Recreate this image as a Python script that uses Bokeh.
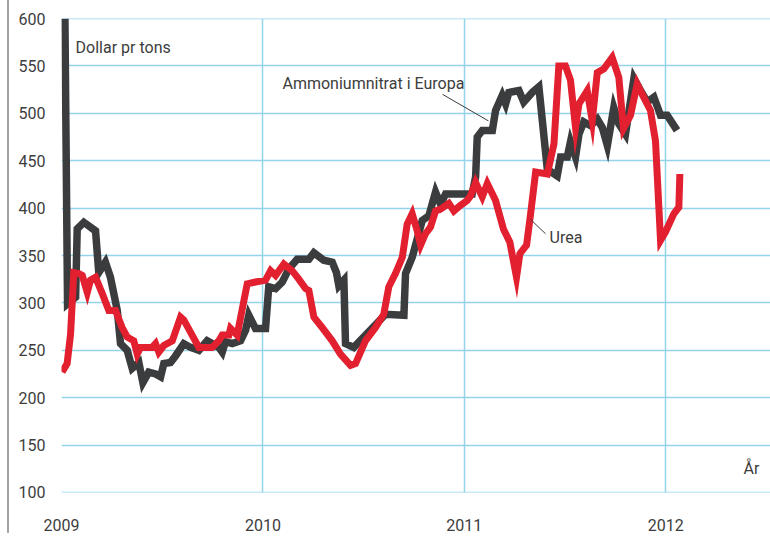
from bokeh.plotting import figure
from bokeh.models import Range1d, FixedTicker, Label, ColumnDataSource
from bokeh.embed import file_html
from bokeh.resources import INLINE

# ---- data (fractional year, USD per tonne) ----
amm_year = [2009.017, 2009.030, 2009.070, 2009.078, 2009.111, 2009.169, 2009.185, 2009.218,
            2009.243, 2009.277, 2009.293, 2009.326, 2009.351, 2009.384, 2009.404, 2009.433,
            2009.467, 2009.492, 2009.508, 2009.541, 2009.566, 2009.607, 2009.641, 2009.682,
            2009.723, 2009.748, 2009.781, 2009.798, 2009.814, 2009.848, 2009.889, 2009.914,
            2009.930, 2009.963, 2010.013, 2010.029, 2010.063, 2010.096, 2010.129, 2010.170,
            2010.228, 2010.253, 2010.302, 2010.344, 2010.365, 2010.377, 2010.402, 2010.410,
            2010.451, 2010.609, 2010.700, 2010.708, 2010.741, 2010.791, 2010.824, 2010.857,
            2010.882, 2010.907, 2010.973, 2011.039, 2011.056, 2011.064, 2011.089, 2011.139,
            2011.155, 2011.188, 2011.205, 2011.221, 2011.271, 2011.295, 2011.337, 2011.370,
            2011.412, 2011.461, 2011.478, 2011.511, 2011.527, 2011.552, 2011.569, 2011.593,
            2011.627, 2011.660, 2011.685, 2011.710, 2011.742, 2011.767, 2011.800, 2011.842,
            2011.875, 2011.908, 2011.941, 2011.974, 2012.007, 2012.056]
amm_price = [600, 299, 306, 378, 385, 376, 332, 343,
             327, 292, 257, 250, 231, 237, 216, 227,
             225, 222, 236, 237, 244, 257, 253, 250,
             260, 257, 253, 248, 259, 257, 260, 271,
             287, 273, 273, 317, 315, 322, 336, 346,
             346, 353, 345, 343, 332, 318, 324, 257,
             253, 288, 287, 331, 348, 387, 392, 417,
             404, 415, 415, 415, 433, 475, 482, 482,
             503, 519, 510, 522, 524, 512, 522, 528,
             441, 434, 454, 454, 470, 454, 478, 491,
             487, 494, 485, 466, 506, 489, 478, 537,
             524, 512, 517, 498, 498, 482]

urea_year = [2009.003, 2009.028, 2009.045, 2009.061, 2009.086, 2009.103, 2009.128, 2009.144,
             2009.169, 2009.202, 2009.235, 2009.268, 2009.301, 2009.326, 2009.359, 2009.376,
             2009.392, 2009.450, 2009.467, 2009.483, 2009.508, 2009.550, 2009.591, 2009.607,
             2009.682, 2009.748, 2009.781, 2009.798, 2009.831, 2009.839, 2009.872, 2009.922,
             2009.963, 2010.013, 2010.038, 2010.063, 2010.104, 2010.145, 2010.178, 2010.212,
             2010.228, 2010.253, 2010.294, 2010.344, 2010.385, 2010.435, 2010.460, 2010.509,
             2010.559, 2010.600, 2010.625, 2010.658, 2010.692, 2010.716, 2010.741, 2010.766,
             2010.783, 2010.807, 2010.832, 2010.857, 2010.882, 2010.923, 2010.948, 2010.981,
             2011.014, 2011.031, 2011.056, 2011.089, 2011.114, 2011.155, 2011.194, 2011.226,
             2011.259, 2011.276, 2011.309, 2011.329, 2011.354, 2011.412, 2011.445, 2011.469,
             2011.502, 2011.527, 2011.552, 2011.569, 2011.610, 2011.635, 2011.660, 2011.693,
             2011.734, 2011.767, 2011.790, 2011.825, 2011.858, 2011.900, 2011.924, 2011.949,
             2011.974, 2011.999, 2012.040, 2012.065, 2012.070]
urea_price = [227, 236, 267, 332, 331, 329, 311, 324,
              327, 310, 292, 292, 274, 264, 260, 246,
              253, 253, 257, 248, 255, 260, 285, 282,
              253, 253, 260, 266, 266, 273, 266, 320,
              322, 324, 334, 329, 341, 334, 325, 315,
              313, 285, 274, 260, 246, 234, 236, 260,
              274, 288, 317, 331, 348, 383, 394, 376,
              361, 373, 380, 397, 399, 405, 397, 403,
              408, 413, 427, 412, 426, 408, 378, 364,
              327, 352, 361, 394, 438, 436, 468, 550,
              550, 535, 485, 510, 524, 492, 543, 547,
              559, 538, 484, 498, 531, 513, 503, 471,
              366, 375, 394, 401, 436]

x_ticks = [2009, 2010, 2011, 2012]
y_ticks = [100, 150, 200, 250, 300, 350, 400, 450, 500, 550, 600]

unit_text = "Dollar pr tons"
axis_text = "År"
amm_label = "Ammoniumnitrat i Europa"
urea_label = "Urea"

# annotation anchors (data coordinates)
unit_pos = (2009.070, 570)
axis_pos = (2012.386, 125)
amm_label_pos = (2010.097, 531)
amm_leader = (2010.892, 520, 2011.120, 492)
urea_label_pos = (2011.423, 369)
urea_leader = (2011.329, 388, 2011.403, 373)

FONT = "Roboto"
TEXT = "#3d3d3d"
GRID = "#93d4ea"
BLACK = "#3b3c3e"
RED = "#e2202f"

p = figure(frame_width=709, frame_height=474, output_backend="svg", toolbar_location=None,
           x_range=Range1d(2009, 2012.52), y_range=Range1d(99.9, 600.1),
           min_border_left=52, min_border_right=0, min_border_top=18, min_border_bottom=0)
p.styles = {"margin-left": "7px", "border-left": "2px solid #a3a3a3",
            "box-sizing": "content-box"}
p.outline_line_color = None
p.background_fill_color = "white"
p.border_fill_color = "white"

p.xaxis.ticker = FixedTicker(ticks=x_ticks)
p.yaxis.ticker = FixedTicker(ticks=y_ticks)
for ax in (p.xaxis, p.yaxis):
    ax.axis_line_color = None
    ax.major_tick_line_color = None
    ax.minor_tick_line_color = None
    ax.major_tick_out = 0
    ax.major_tick_in = 0
    ax.minor_tick_out = 0
    ax.minor_tick_in = 0
    ax.major_label_text_font = FONT
    ax.major_label_text_font_size = "16px"
    ax.major_label_text_color = TEXT
p.yaxis.major_label_standoff = 16
p.xaxis.major_label_standoff = 26

p.xgrid.ticker = FixedTicker(ticks=x_ticks)
p.ygrid.ticker = FixedTicker(ticks=y_ticks)
for g in (p.xgrid, p.ygrid):
    g.grid_line_color = GRID
    g.grid_line_width = 1.5

amm_src = ColumnDataSource(dict(x=amm_year, y=amm_price))
urea_src = ColumnDataSource(dict(x=urea_year, y=urea_price))
p.line("x", "y", source=amm_src, line_color=BLACK, line_width=7.5, line_join="miter")
p.line("x", "y", source=urea_src, line_color=RED, line_width=7, line_join="miter")

p.segment(x0=[amm_leader[0], urea_leader[0]], y0=[amm_leader[1], urea_leader[1]],
          x1=[amm_leader[2], urea_leader[2]], y1=[amm_leader[3], urea_leader[3]],
          line_color=TEXT, line_width=1)

for txt, (lx, ly) in [(unit_text, unit_pos), (axis_text, axis_pos),
                      (amm_label, amm_label_pos), (urea_label, urea_label_pos)]:
    p.add_layout(Label(x=lx, y=ly, text=txt, text_font=FONT, text_font_size="16px",
                       text_color=TEXT, text_baseline="middle", text_align="left"))

open("out.html", "w").write(file_html(p, INLINE))
